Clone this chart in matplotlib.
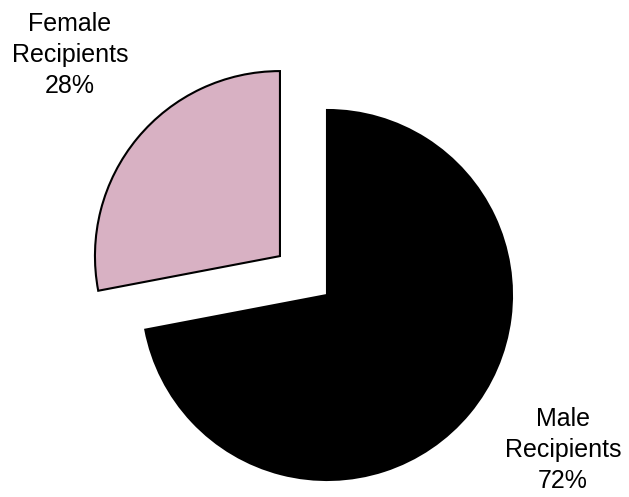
import matplotlib
matplotlib.use("Agg")
from matplotlib import pyplot as plt

categories = ["Male\nRecipients", "Female\nRecipients"]
shares = [72, 28]
colors = ["#000000", "#D8B1C3"]
explode = [0.0, 0.33]

plt.rcParams["font.family"] = ["Liberation Sans", "DejaVu Sans"]

fig = plt.figure(figsize=(6.29, 4.97), dpi=100)
ax = fig.add_axes([0, 0, 1, 1])

wedges, _ = ax.pie(
    shares,
    colors=colors,
    explode=explode,
    startangle=90,
    counterclock=False,
    wedgeprops=dict(edgecolor="black", linewidth=1.5),
    frame=True,
)
# pie radius is 1; map to the pixel layout (185 px per unit, center at 327,295)
r = 185.0
ax.set_xlim(-327 / r, (629 - 327) / r)
ax.set_ylim(-(497 - 295) / r, 295 / r)
ax.axis("off")

label_pos = [(563, 450), (70, 55)]
for name, val, (px, py) in zip(categories, shares, label_pos):
    ax.text((px - 327) / r, (295 - py) / r, f"{name}\n{val}%", ha="center",
            va="center", fontsize=18, linespacing=1.36, color="black")

fig.savefig("out.png", dpi=100)
